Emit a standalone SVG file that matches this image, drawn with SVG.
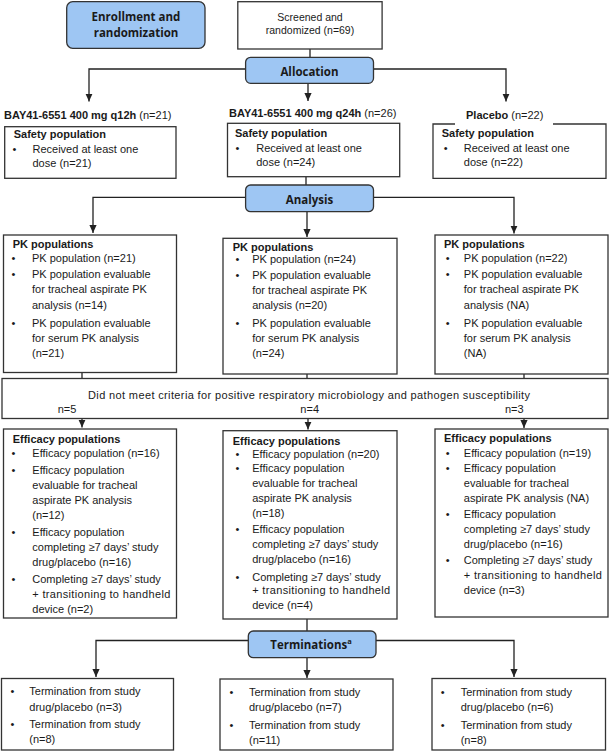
<svg xmlns="http://www.w3.org/2000/svg" width="611" height="752" viewBox="0 0 611 752">
<style>
.box{fill:#fff;stroke:#333;stroke-width:1.3}
.blue{fill:#9ec6f3;stroke:#333;stroke-width:1.3}
text{font-family:"Liberation Sans",Arial,sans-serif;font-size:11px;fill:#1a1a1a}
.b{font-weight:bold}
.c{text-anchor:middle}
.hb{font-family:"Open Sans","Liberation Sans",sans-serif;font-weight:bold;font-size:11.5px;text-anchor:middle}
.sm{font-size:10.5px}
.conn path{fill:none;stroke:#222;stroke-width:1.3}
</style>
<defs>
<marker id="arr" viewBox="0 0 8 8" refX="8" refY="4" markerWidth="8" markerHeight="8" orient="auto" markerUnits="userSpaceOnUse">
<path d="M0,0.4 L8,4 L0,7.6 z" fill="#222"/>
</marker>
</defs>

<g class="conn">
<path d="M310 49 V57"/>
<path d="M245.6 69 H89 V101.5" marker-end="url(#arr)"/>
<path d="M373.5 69 H506 V101.5" marker-end="url(#arr)"/>
<path d="M308 83.3 V101" marker-end="url(#arr)"/>
<path d="M306 176.7 V185"/>
<path d="M245.6 197.3 H93 V233" marker-end="url(#arr)"/>
<path d="M373.5 197.3 H514 V233.5" marker-end="url(#arr)"/>
<path d="M307 211.7 V237" marker-end="url(#arr)"/>
<path d="M82 372.5 V378.5"/>
<path d="M307 374 V378.5"/>
<path d="M524 374 V378.5"/>
<path d="M82 418.5 V427.5" marker-end="url(#arr)"/>
<path d="M308 418.5 V429.5" marker-end="url(#arr)"/>
<path d="M524 418.5 V428" marker-end="url(#arr)"/>
<path d="M307 619 V631"/>
<path d="M248.3 640.5 H96 V677" marker-end="url(#arr)"/>
<path d="M376 640.5 H514 V677" marker-end="url(#arr)"/>
<path d="M307 657.7 V678" marker-end="url(#arr)"/>
</g>

<g id="enrollment">
<rect class="blue" x="66.7" y="1.7" width="138.3" height="46.6" rx="6"/>
<text class="hb" x="136" y="20.7">Enrollment and</text>
<text class="hb" x="136" y="36.7">randomization</text>
</g>

<g id="screened">
<rect class="box" x="237.8" y="1.7" width="144.3" height="47.3"/>
<text class="c sm" x="310" y="20.7">Screened and</text>
<text class="c sm" x="310" y="34.3">randomized (n=69)</text>
</g>

<g id="allocation">
<rect class="blue" x="245.6" y="57.3" width="127.9" height="26" rx="5"/>
<text class="hb" x="309.5" y="75.7">Allocation</text>
</g>

<g id="label-q12h">
<text x="4" y="119"><tspan class="b">BAY41-6551 400 mg q12h</tspan>  (n=21)</text>
</g>
<g id="label-q24h">
<text x="229" y="117"><tspan class="b">BAY41-6551 400 mg q24h</tspan>  (n=26)</text>
</g>
<g id="label-placebo">
<text x="466" y="118.5"><tspan class="b">Placebo</tspan>  (n=22)</text>
</g>

<g id="safety-q12h">
<rect class="box" x="4.7" y="126.7" width="171.3" height="51.6"/>
<text class="b" x="13.7" y="138.3">Safety population</text>
<text class="c" x="14.5" y="153.3">•</text>
<text x="32.5" y="153.3">Received at least one</text>
<text x="32.5" y="167.3">dose (n=21)</text>
</g>
<g id="safety-q24h">
<rect class="box" x="227.5" y="123.3" width="172.2" height="53.4"/>
<text class="b" x="235" y="137.3">Safety population</text>
<text class="c" x="237.4" y="151.7">•</text>
<text x="256.2" y="151.7">Received at least one</text>
<text x="256.2" y="166">dose (n=24)</text>
</g>
<g id="safety-placebo">
<path class="box" d="M455 124 H433 V178.3 H606 V124 H553"/>
<text class="b" x="441.7" y="137.3">Safety population</text>
<text class="c" x="445.8" y="152">•</text>
<text x="463.8" y="152">Received at least one</text>
<text x="463.8" y="166.3">dose (n=22)</text>
</g>

<g id="analysis">
<rect class="blue" x="245.6" y="185" width="127.9" height="26.7" rx="5"/>
<text class="hb" x="309.5" y="204">Analysis</text>
</g>

<g id="pk-q12h">
<rect class="box" x="3.5" y="235" width="173" height="137.5"/>
<text class="b" x="12.7" y="247.5">PK populations</text>
<text class="c" x="13.5" y="262">•</text>
<text x="32" y="262">PK population (n=21)</text>
<text class="c" x="13.5" y="278">•</text>
<text x="32" y="278">PK population evaluable</text>
<text x="32" y="293">for tracheal aspirate PK</text>
<text x="32" y="308.5">analysis (n=14)</text>
<text class="c" x="13.5" y="326.5">•</text>
<text x="32" y="326.5">PK population evaluable</text>
<text x="32" y="341.5">for serum PK analysis</text>
<text x="32" y="356.5">(n=21)</text>
</g>
<g id="pk-q24h">
<rect class="box" x="223" y="238.3" width="174" height="135.7"/>
<text class="b" x="232.7" y="250.5">PK populations</text>
<text class="c" x="237.4" y="262.5">•</text>
<text x="252.2" y="262.5">PK population (n=24)</text>
<text class="c" x="237.4" y="278.5">•</text>
<text x="252.2" y="278.5">PK population evaluable</text>
<text x="252.2" y="293.5">for tracheal aspirate PK</text>
<text x="252.2" y="309">analysis (n=20)</text>
<text class="c" x="237.4" y="326.5">•</text>
<text x="252.2" y="326.5">PK population evaluable</text>
<text x="252.2" y="342">for serum PK analysis</text>
<text x="252.2" y="357">(n=24)</text>
</g>
<g id="pk-placebo">
<rect class="box" x="435" y="235" width="173" height="139"/>
<text class="b" x="444" y="248">PK populations</text>
<text class="c" x="447.8" y="262">•</text>
<text x="463.8" y="262">PK population (n=22)</text>
<text class="c" x="447.8" y="278">•</text>
<text x="463.8" y="278">PK population evaluable</text>
<text x="463.8" y="293">for tracheal aspirate PK</text>
<text x="463.8" y="308.5">analysis (NA)</text>
<text class="c" x="447.8" y="327">•</text>
<text x="463.8" y="327">PK population evaluable</text>
<text x="463.8" y="342">for serum PK analysis</text>
<text x="463.8" y="357">(NA)</text>
</g>

<g id="not-met">
<rect class="box" x="2" y="378.5" width="606" height="40"/>
<text x="88" y="398.5" textLength="442" lengthAdjust="spacing">Did not meet criteria for positive respiratory microbiology and pathogen susceptibility</text>
<text class="c" x="67" y="413.3">n=5</text>
<text class="c" x="309.7" y="413.3">n=4</text>
<text class="c" x="514.3" y="413.3">n=3</text>
</g>

<g id="eff-q12h">
<rect class="box" x="3.5" y="429" width="173" height="189"/>
<text class="b" x="12.7" y="443">Efficacy populations</text>
<text class="c" x="13.5" y="457">•</text>
<text x="32.3" y="457">Efficacy population (n=16)</text>
<text class="c" x="13.5" y="473.5">•</text>
<text x="32.3" y="473.5">Efficacy population</text>
<text x="32.3" y="488.5">evaluable for tracheal</text>
<text x="32.3" y="503.5">aspirate PK analysis</text>
<text x="32.3" y="518.5">(n=12)</text>
<text class="c" x="13.5" y="535.5">•</text>
<text x="32.3" y="535.5">Efficacy population</text>
<text x="32.3" y="550.5">completing ≥7 days’ study</text>
<text x="32.3" y="565.5">drug/placebo (n=16)</text>
<text class="c" x="13.5" y="583">•</text>
<text x="32.3" y="583">Completing ≥7 days’ study</text>
<text x="32.3" y="598" textLength="138" lengthAdjust="spacing">+ transitioning to handheld</text>
<text x="32.3" y="612.5">device (n=2)</text>
</g>
<g id="eff-q24h">
<rect class="box" x="223" y="430.7" width="174" height="188.3"/>
<text class="b" x="232.7" y="445">Efficacy populations</text>
<text class="c" x="237.4" y="457.5">•</text>
<text x="252.2" y="457.5">Efficacy population (n=20)</text>
<text class="c" x="237.4" y="472">•</text>
<text x="252.2" y="472">Efficacy population</text>
<text x="252.2" y="486.5">evaluable for tracheal</text>
<text x="252.2" y="501.5">aspirate PK analysis</text>
<text x="252.2" y="516.5">(n=18)</text>
<text class="c" x="237.4" y="533">•</text>
<text x="252.2" y="533">Efficacy population</text>
<text x="252.2" y="548">completing ≥7 days’ study</text>
<text x="252.2" y="563">drug/placebo (n=16)</text>
<text class="c" x="237.4" y="580.5">•</text>
<text x="252.2" y="580.5">Completing ≥7 days’ study</text>
<text x="252.2" y="594" textLength="138" lengthAdjust="spacing">+ transitioning to handheld</text>
<text x="252.2" y="609">device (n=4)</text>
</g>
<g id="eff-placebo">
<rect class="box" x="435" y="429" width="173" height="188"/>
<text class="b" x="444" y="442">Efficacy populations</text>
<text class="c" x="447.8" y="456.5">•</text>
<text x="463.8" y="456.5">Efficacy population (n=19)</text>
<text class="c" x="447.8" y="472">•</text>
<text x="463.8" y="472">Efficacy population</text>
<text x="463.8" y="486.5">evaluable for tracheal</text>
<text x="463.8" y="501.5">aspirate PK analysis (NA)</text>
<text class="c" x="447.8" y="518">•</text>
<text x="463.8" y="518">Efficacy population</text>
<text x="463.8" y="532.5">completing ≥7 days’ study</text>
<text x="463.8" y="547.5">drug/placebo (n=16)</text>
<text class="c" x="447.8" y="564">•</text>
<text x="463.8" y="564">Completing ≥7 days’ study</text>
<text x="463.8" y="578.5" textLength="138" lengthAdjust="spacing">+ transitioning to handheld</text>
<text x="463.8" y="593.5">device (n=3)</text>
</g>

<g id="terminations">
<rect class="blue" x="248.3" y="631" width="127.7" height="26.7" rx="5"/>
<text class="hb" x="311" y="649">Terminations<tspan font-size="7.5px" dy="-5">a</tspan></text>
</g>

<g id="term-q12h">
<rect class="box" x="1.5" y="678.5" width="172" height="71.5"/>
<text class="c" x="12.5" y="695">•</text>
<text x="29.3" y="695">Termination from study</text>
<text x="29.3" y="711">drug/placebo (n=3)</text>
<text class="c" x="12.5" y="727.5">•</text>
<text x="29.3" y="727.5">Termination from study</text>
<text x="29.3" y="742.5">(n=8)</text>
</g>
<g id="term-q24h">
<rect class="box" x="220" y="679" width="173" height="71"/>
<text class="c" x="231.5" y="696">•</text>
<text x="249" y="696">Termination from study</text>
<text x="249" y="711">drug/placebo (n=7)</text>
<text class="c" x="231.5" y="728.5">•</text>
<text x="249" y="728.5">Termination from study</text>
<text x="249" y="743.5">(n=11)</text>
</g>
<g id="term-placebo">
<rect class="box" x="432" y="678.5" width="173.5" height="71.5"/>
<text class="c" x="442.7" y="696">•</text>
<text x="460.7" y="696">Termination from study</text>
<text x="460.7" y="711">drug/placebo (n=6)</text>
<text class="c" x="442.7" y="728.5">•</text>
<text x="460.7" y="728.5">Termination from study</text>
<text x="460.7" y="743.5">(n=8)</text>
</g>
</svg>
